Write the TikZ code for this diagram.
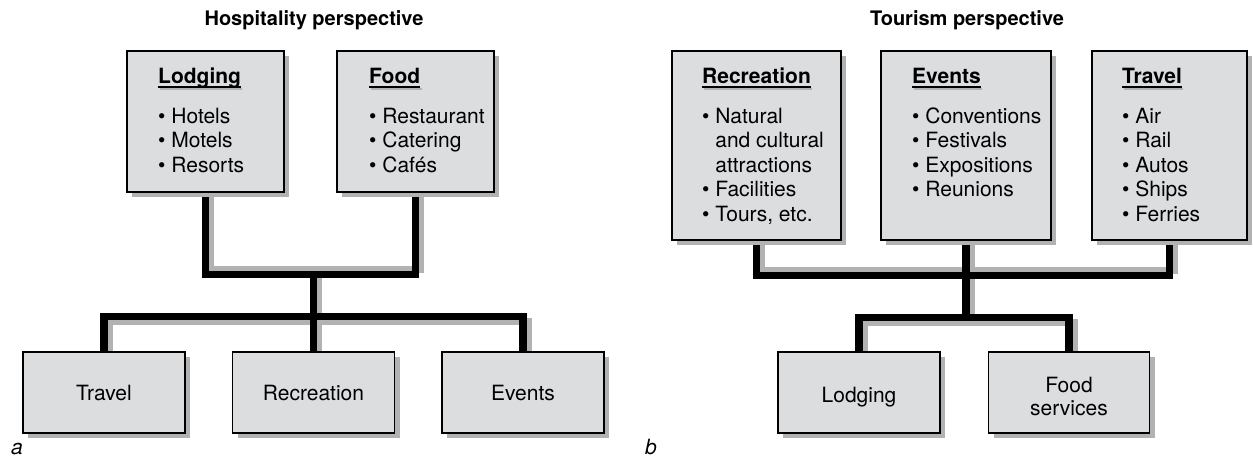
\documentclass[tikz,border=0pt]{standalone}
\usepackage{fontspec}
\setmainfont{TeX Gyre Heros}
\usetikzlibrary{shadows}
\definecolor{boxfill}{RGB}{220,221,223}
\definecolor{shadowgray}{RGB}{178,178,178}
% bold heading with a black underline and its grey shadow
\newcommand\uhead[1]{\setbox0=\hbox{\bfseries #1}%
  \rlap{\hspace{1.3pt}\textcolor{shadowgray}{\rule[-7.3pt]{\wd0}{2.3pt}}}%
  \rlap{\rule[-5pt]{\wd0}{2pt}}\box0}
\newcommand\bodyfont{\fontsize{21}{23}\selectfont}
\newcommand\hangin{\phantom{• }}
\pgfdeclarelayer{background}
\pgfsetlayers{background,main}

\begin{document}
\begin{tikzpicture}[x=1pt,y=-1pt,
  box/.style={draw=black, line width=1.4pt, fill=boxfill,
    drop shadow={shadow xshift=5pt, shadow yshift=-5pt, fill=shadowgray, opacity=1},
    inner sep=0pt, font=\bodyfont, align=center},
  conn/.style={line width=7.5pt, draw=black, line join=miter},
  connshade/.style={line width=7.5pt, draw=shadowgray, line join=miter},
  itemlist/.style={anchor=base west, inner sep=0pt, font=\fontsize{21}{24.5}\selectfont},
  title/.style={anchor=base, inner sep=0pt, font=\fontsize{20}{24}\selectfont\bfseries},
  tag/.style={anchor=base west, inner sep=0pt, font=\bodyfont\itshape}]
\useasboundingbox (0,0) rectangle (1253,459);

% ---------- (a) hospitality perspective ----------
\node[title] (titleA) at (314,25) {Hospitality perspective};
\node[box, minimum width=157pt, minimum height=141pt] (lodging) at (205.5,121.5) {};
\node[box, minimum width=157pt, minimum height=141pt] (food) at (415.5,121.5) {};
\node[box, minimum width=162pt, minimum height=81pt, text depth=0pt] (travelL) at (104,392.5) {Travel};
\node[box, minimum width=162pt, minimum height=81pt, text depth=0pt] (recreationL) at (313.5,392.5) {Recreation};
\node[box, minimum width=162pt, minimum height=81pt, text depth=0pt] (eventsL) at (523,392.5) {Events};

\node[itemlist] (lodgingtxt) at (158,83) {\begin{tabular}[t]{@{}l@{}}\uhead{Lodging}\\[15.5pt]
  • Hotels\\ • Motels\\ • Resorts\end{tabular}};
\node[itemlist] (foodtxt) at (369,83) {\begin{tabular}[t]{@{}l@{}}\uhead{Food}\\[15.5pt]
  • Restaurant\\ • Catering\\ • Cafés\end{tabular}};

\path (recreationL.north) ++(0,-35) coordinate (hubB);
\path (recreationL.north) ++(0,-77) coordinate (hubA);

\begin{pgfonlayer}{background}
  \draw[connshade, transform canvas={xshift=5pt, yshift=5pt}]
    (lodging.south) |- (hubA) -| (food.south);
  \draw[connshade, transform canvas={xshift=5pt}] (hubA) -- (hubB);
  \draw[connshade, transform canvas={xshift=5pt, yshift=-5pt}]
    (travelL.north) |- (hubB) -| (eventsL.north) (hubB) -- (recreationL.north);
  \draw[conn] (lodging.south) |- (hubA) -| (food.south);
  \draw[conn] (hubA) -- (hubB);
  \draw[conn] (travelL.north) |- (hubB) -| (eventsL.north) (hubB) -- (recreationL.north);
\end{pgfonlayer}

\node[tag] (taga) at (11,454) {a};

% ---------- (b) tourism perspective ----------
\node[title] (titleB) at (967,25) {Tourism perspective};
\node[box, minimum width=169pt, minimum height=189pt] (recreationR) at (756.5,145.5) {};
\node[box, minimum width=170pt, minimum height=189pt] (eventsR) at (966,145.5) {};
\node[box, minimum width=155pt, minimum height=189pt] (travelR) at (1169.5,145.5) {};
\node[box, minimum width=162pt, minimum height=81pt, text depth=0pt] (lodgingR) at (859,392.5)
  {\raisebox{0pt}[\dimexpr\height+5pt\relax]{Lodging}};
\node[box, minimum width=161pt, minimum height=81pt] (foodR) at (1069,392.5)
  {\raisebox{0pt}[\dimexpr\height+14pt\relax]{\begin{tabular}{@{}c@{}}Food\\services\end{tabular}}};

\node[itemlist] (recreationtxt) at (702,83) {\begin{tabular}[t]{@{}l@{}}\uhead{Recreation}\\[15.5pt]
  • Natural\\ \hangin and cultural\\ \hangin attractions\\ • Facilities\\ • Tours, etc.\end{tabular}};
\node[itemlist] (eventstxt) at (912,83) {\begin{tabular}[t]{@{}l@{}}\uhead{Events}\\[15.5pt]
  • Conventions\\ • Festivals\\ • Expositions\\ • Reunions\end{tabular}};
\node[itemlist] (traveltxt) at (1122,83) {\begin{tabular}[t]{@{}l@{}}\uhead{Travel}\\[15.5pt]
  • Air\\ • Rail\\ • Autos\\ • Ships\\ • Ferries\end{tabular}};

\path (eventsR.south) ++(0,35) coordinate (hubC);
\path (hubC) ++(0,42) coordinate (hubD);

\begin{pgfonlayer}{background}
  \draw[connshade, transform canvas={xshift=5pt, yshift=5pt}]
    (recreationR.south) |- (hubC) -| (travelR.south) (eventsR.south) -- (hubC);
  \draw[connshade, transform canvas={xshift=5pt}] (hubC) -- (hubD);
  \draw[connshade, transform canvas={xshift=5pt, yshift=-5pt}]
    (lodgingR.north) |- (hubD) -| (foodR.north);
  \draw[conn] (recreationR.south) |- (hubC) -| (travelR.south) (eventsR.south) -- (hubC);
  \draw[conn] (hubC) -- (hubD);
  \draw[conn] (lodgingR.north) |- (hubD) -| (foodR.north);
\end{pgfonlayer}

\node[tag] (tagb) at (645,454) {b};
\end{tikzpicture}
\end{document}
